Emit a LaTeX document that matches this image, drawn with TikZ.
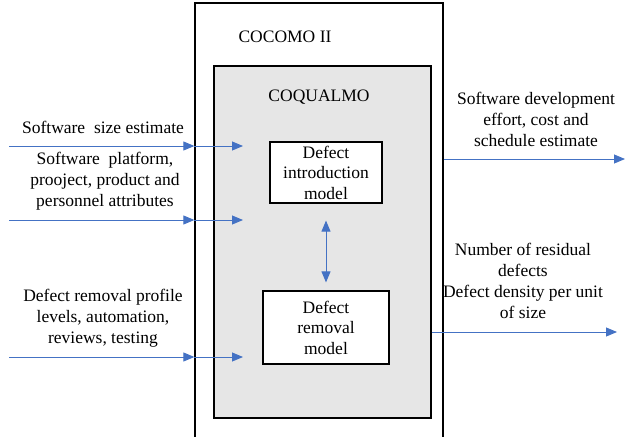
\documentclass[tikz,border=0pt]{standalone}
\usepackage{fontspec}
\setmainfont{Liberation Serif}
\usetikzlibrary{arrows.meta}
\definecolor{arrowblue}{RGB}{68,114,196}
\definecolor{panelgray}{RGB}{230,230,230}
\begin{document}
\begin{tikzpicture}[x=1pt,y=-1pt,
  txt/.style={font=\fontsize{17.5}{21}\selectfont, align=center, inner sep=0pt},
  frame/.style={draw=black, line width=1.3pt, inner sep=0pt},
  model/.style={draw=black, line width=1.2pt, fill=white, inner sep=0pt, align=center, font=\fontsize{17.5}{20.5}\selectfont},
  flow/.style={draw=arrowblue, line width=0.9pt, -{Triangle[length=11pt,width=9pt]}},
  both/.style={draw=arrowblue, line width=0.9pt, {Triangle[length=11pt,width=9pt]}-{Triangle[length=11pt,width=9pt]}}]
\useasboundingbox (0,0) rectangle (625,437);
\fill[white] (0,0) rectangle (625,437);
\node[frame, fill=white, minimum width=248pt, minimum height=440pt] (outer) at (319,223) {};
\node[frame, fill=panelgray, minimum width=217pt, minimum height=352pt] (inner) at (322.5,242) {};
\node[txt] (cocomo) at (285,37) {COCOMO II};
\node[txt] (coqualmo) at (319,97) {COQUALMO};
\node[model, minimum width=112pt, minimum height=61pt] (intro) at (326,172.5) {Defect\\introduction\\model};
\node[model, minimum width=126pt, minimum height=73pt] (removal) at (326,327.5) {Defect\\removal\\model};
\draw[both] ([yshift=-17pt]intro.south) -- ([yshift=8pt]removal.north);
% inputs
\node[txt] (lsize) at (103,127) {Software\ \ size estimate};
\node[txt] (lplat) at (105,181) {Software\ \ platform,\\prooject, product and\\personnel attributes};
\node[txt] (lrem) at (103,318) {Defect removal profile\\levels, automation,\\reviews, testing};
\coordinate (s1) at (9,146);
\coordinate (s2) at (9,220);
\coordinate (s3) at (9,357);
\coordinate (t1) at (243,146);
\coordinate (t2) at (243,220);
\coordinate (t3) at (243,357);
\draw[flow] (s1) -- (outer.west |- s1);
\draw[flow] (outer.west |- s1) -- (t1);
\draw[flow] (s2) -- (outer.west |- s2);
\draw[flow] (outer.west |- s2) -- (t2);
\draw[flow] (s3) -- (outer.west |- s3);
\draw[flow] (outer.west |- s3) -- (t3);
% outputs
\node[txt] (oeff) at (536,119) {Software development\\effort, cost and\\schedule estimate};
\node[txt] (odef) at (523,281) {Number of residual\\defects\\Defect density per unit\\of size};
\coordinate (e1) at (625,159);
\coordinate (e2) at (617,332);
\draw[flow] (outer.east |- e1) -- (e1);
\draw[flow] (inner.east |- e2) -- (e2);
\end{tikzpicture}
\end{document}
